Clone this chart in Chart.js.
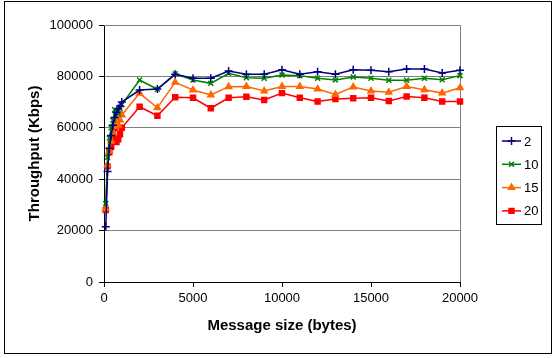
<!DOCTYPE html>
<html>
<head>
<meta charset="utf-8">
<script src="https://cdn.jsdelivr.net/npm/chart.js@4/dist/chart.umd.min.js"></script>
<style>
  body { margin: 0; background: #fff; }
  canvas { display: block; }
</style>
</head>
<body>
<canvas id="chart" width="555" height="358"></canvas>
<script>
// message sizes (bytes)
const sizes = [100, 200, 300, 400, 500, 600, 700, 800, 900, 1000,
  2000, 3000, 4000, 5000, 6000, 7000, 8000, 9000, 10000,
  11000, 12000, 13000, 14000, 15000, 16000, 17000, 18000, 19000, 20000];

// throughput (Kbps) per series
const series2 = [21500, 43000, 52000, 57000, 61000, 64000, 66000, 67500, 68500, 70000,
  74700, 75100, 80800, 79300, 79300, 82100, 80800, 80800, 82600,
  80800, 81800, 80800, 82600, 82400, 81800, 82900, 82900, 81300, 82400];
const series10 = [30500, 48500, 56000, 60000, 63000, 67000, 66000, 65500, 67500, 69000,
  78600, 75000, 81000, 78600, 77300, 81200, 79500, 79300, 80500,
  80300, 79300, 78600, 79800, 79300, 78500, 78500, 79300, 78700, 80300];
const series15 = [28500, 45500, 51000, 55000, 58000, 60500, 63500, 61000, 63000, 65000,
  73400, 67800, 77700, 74700, 72800, 76000, 76100, 74300, 76100,
  76100, 75100, 73000, 75900, 74300, 73800, 76100, 74800, 73500, 75600];
const series20 = [28000, 45000, 50500, 52500, 56000, 60000, 54500, 55500, 57500, 60000,
  68200, 64700, 71900, 71700, 67600, 71700, 72100, 70800, 73500,
  71700, 70200, 71200, 71500, 71700, 70400, 72200, 71700, 70200, 70200];

const labels = ["2", "10", "15", "20"];
const xTicks = [0, 5000, 10000, 15000, 20000];
const yTicks = [0, 20000, 40000, 60000, 80000, 100000];

const FONT = "'Liberation Sans', Arial, sans-serif";

function pts(vals) {
  return sizes.map((s, i) => ({ x: s, y: vals[i] }));
}

function makeSet(label, vals, color, style, radius) {
  return {
    label,
    data: pts(vals),
    borderColor: color,
    backgroundColor: color,
    borderWidth: 1.5,
    pointStyle: style,
    pointRadius: radius,
    pointBorderWidth: 1.5,
    pointBorderColor: color,
    pointBackgroundColor: color,
    tension: 0,
    clip: false,
  };
}

const framePlugin = {
  id: "frame",
  beforeDraw(chart) {
    const ctx = chart.ctx;
    ctx.save();
    ctx.fillStyle = "#fff";
    ctx.fillRect(0, 0, chart.width, chart.height);
    ctx.restore();
  },
  beforeDatasetsDraw(chart) {
    const { ctx, chartArea: a } = chart;
    ctx.save();
    ctx.strokeStyle = "#808080";
    ctx.lineWidth = 1;
    ctx.beginPath();
    ctx.moveTo(a.left, Math.round(a.top) + 0.5);
    ctx.lineTo(Math.round(a.right) + 0.5, Math.round(a.top) + 0.5);
    ctx.lineTo(Math.round(a.right) + 0.5, a.bottom);
    ctx.stroke();
    ctx.restore();
  },
  afterDraw(chart) {
    const ctx = chart.ctx;
    ctx.save();
    // outer frame
    ctx.strokeStyle = "#000";
    ctx.lineWidth = 1;
    ctx.strokeRect(4.5, 1.5, 547, 352);
    // legend box
    ctx.strokeRect(496.5, 126.5, 45, 98);
    ctx.font = "13px " + FONT;
    ctx.textBaseline = "middle";
    ctx.textAlign = "left";
    chart.data.datasets.forEach((ds, i) => {
      const y = 141 + i * 23.3;
      ctx.strokeStyle = ds.borderColor;
      ctx.lineWidth = 1.5;
      ctx.beginPath();
      ctx.moveTo(502, y);
      ctx.lineTo(521, y);
      ctx.stroke();
      ctx.fillStyle = ds.pointBackgroundColor;
      ctx.strokeStyle = ds.pointBorderColor;
      Chart.helpers.drawPoint(ctx, {
        pointStyle: ds.pointStyle, radius: ds.pointRadius,
        borderWidth: ds.pointBorderWidth, rotation: 0,
      }, 511.5, y);
      ctx.fillStyle = "#000";
      ctx.fillText(ds.label, 524, y + 1);
    });
    ctx.restore();
  },
};

new Chart(document.getElementById("chart"), {
  type: "line",
  data: {
    datasets: [
      makeSet(labels[0], series2, "#000080", "cross", 4),
      makeSet(labels[1], series10, "#008000", "crossRot", 3.5),
      makeSet(labels[2], series15, "#FF6600", "triangle", 3.5),
      makeSet(labels[3], series20, "#FF0000", "rect", 3.5),
    ],
  },
  options: {
    responsive: false,
    animation: false,
    layout: { padding: { left: 0, top: 25, right: 95, bottom: 0 } },
    plugins: {
      legend: { display: false },
      tooltip: { enabled: false },
    },
    scales: {
      x: {
        type: "linear",
        min: 0,
        max: 20000,
        afterBuildTicks: s => { s.ticks = xTicks.map(v => ({ value: v })); },
        afterFit: s => { s.height = 76; },
        ticks: {
          font: { family: FONT, size: 13 }, color: "#000", padding: 4, maxRotation: 0,
          callback: v => String(v),
        },
        grid: { drawOnChartArea: false, drawTicks: true, tickLength: 5, tickColor: "#000" },
        border: { color: "#000", width: 1 },
        title: {
          display: true, text: "Message size (bytes)", color: "#000",
          font: { family: FONT, size: 15, weight: "bold" },
          padding: { top: 0, bottom: 23 },
        },
      },
      y: {
        min: 0,
        max: 100000,
        afterBuildTicks: s => { s.ticks = yTicks.map(v => ({ value: v })); },
        afterFit: s => { s.width = 104; },
        ticks: {
          font: { family: FONT, size: 13 }, color: "#000", padding: 6,
          callback: v => String(v),
        },
        grid: { color: "#808080", drawTicks: true, tickLength: 5, tickColor: "#000" },
        border: { color: "#000", width: 1 },
        title: {
          display: true, text: "Throughput (Kbps)", color: "#000",
          font: { family: FONT, size: 15, weight: "bold" },
          padding: { top: 26, bottom: 0 },
        },
      },
    },
  },
  plugins: [framePlugin],
});
</script>
</body>
</html>
